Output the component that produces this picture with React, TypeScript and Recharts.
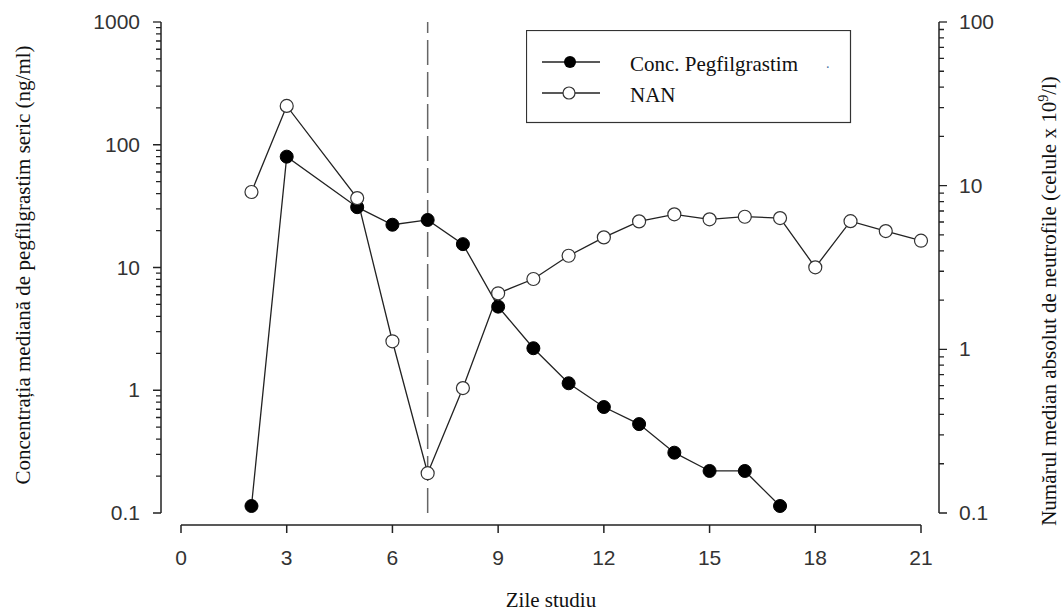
import { LineChart, Line, XAxis, YAxis, ReferenceLine, Legend, Label } from "recharts";

// days of study (no sample on day 4)
const days = [2, 3, 5, 6, 7, 8, 9, 10, 11, 12, 13, 14, 15, 16, 17, 18, 19, 20, 21];
// median serum pegfilgrastim, ng/ml (left axis)
const pegfilgrastim = [0.114, 80, 31, 22.3, 24.4, 15.5, 4.8, 2.2, 1.14, 0.73, 0.53, 0.31, 0.22, 0.22, 0.114, null, null, null, null];
// median absolute neutrophil count, 10^9/l (right axis)
const nan = [9.15, 30.7, 8.4, 1.12, 0.175, 0.58, 2.2, 2.69, 3.73, 4.83, 6.05, 6.68, 6.23, 6.46, 6.34, 3.17, 6.07, 5.28, 4.61];

const xTicks = [0, 3, 6, 9, 12, 15, 18, 21];
const leftTicks = [0.1, 1, 10, 100, 1000];
const leftLabels = ["0.1", "1", "10", "100", "1000"];
const rightTicks = [0.1, 1, 10, 100];
const rightLabels = ["0.1", "1", "10", "100"];
const minorSteps = [2, 3, 4, 5, 6, 7, 8, 9];

const data = days.map((d, i) => ({ day: d, conc: pegfilgrastim[i], nan: nan[i] }));

// layout
const W = 1063;
const H = 612;
const PLOT_L = 181;
const PLOT_R = 921;
const PLOT_T = 22;
const PLOT_B = 513;
const LEFT_AXIS_X = 161;
const RIGHT_AXIS_X = 939;
const X_AXIS_Y = 525;
const INK = "#222";
const NUM_FONT = "'Liberation Sans', Arial, sans-serif";
const SERIF = "'Liberation Serif', 'Times New Roman', serif";

function XTick(props: any) {
  const { x, payload } = props;
  return (
    <g>
      {payload.value === 0 && (
        <line x1={x} x2={x + (PLOT_R - PLOT_L)} y1={X_AXIS_Y} y2={X_AXIS_Y} stroke={INK} strokeWidth={1.5} />
      )}
      <line x1={x} x2={x} y1={X_AXIS_Y} y2={X_AXIS_Y + 8} stroke={INK} strokeWidth={1.5} />
      <text x={x} y={X_AXIS_Y + 40} textAnchor="middle" fontFamily={NUM_FONT} fontSize={21} fill="#333">
        {payload.value}
      </text>
    </g>
  );
}

// log axis tick: major mark + label, and the minor marks of the decade above it
function makeLogTick(majors: number[], labels: string[], axisX: number, dir: number, anchor: "start" | "end", labelX: number) {
  const decade = (PLOT_B - PLOT_T) / (majors.length - 1);
  return function LogTick(props: any) {
    const { y, payload } = props;
    const idx = majors.indexOf(payload.value);
    const isTop = idx === majors.length - 1;
    const marks = [{ yy: y, len: 8 }];
    if (!isTop) minorSteps.forEach((s) => marks.push({ yy: y - decade * Math.log10(s), len: 5 }));
    const d = marks.map((m) => `M${axisX},${m.yy}H${axisX + dir * m.len}`).join("");
    return (
      <g>
        {idx === 0 && (
          <path d={`M${axisX},${y}V${y - decade * (majors.length - 1)}`} stroke={INK} strokeWidth={1.5} fill="none" />
        )}
        <path d={d} stroke={INK} strokeWidth={1.3} fill="none" />
        <text x={labelX} y={y + 7} textAnchor={anchor} fontFamily={NUM_FONT} fontSize={21} fill="#333">
          {labels[idx]}
        </text>
      </g>
    );
  };
}

const LeftTick = makeLogTick(leftTicks, leftLabels, LEFT_AXIS_X, -1, "end", 140);
const RightTick = makeLogTick(rightTicks, rightLabels, RIGHT_AXIS_X, 1, "start", 959);

function LegendBox() {
  return (
    <svg width={326} height={94}>
      <rect x={0.5} y={0.5} width={324} height={92} fill="#fff" stroke="#333" strokeWidth={1.2} />
      <line x1={16} x2={74} y1={32} y2={32} stroke={INK} strokeWidth={1.3} />
      <circle cx={44} cy={32} r={6} fill="#000" />
      <line x1={16} x2={74} y1={63} y2={63} stroke={INK} strokeWidth={1.3} />
      <circle cx={43} cy={63} r={6} fill="#fff" stroke="#333" strokeWidth={1.2} />
      <text x={104} y={41} fontFamily={SERIF} fontSize={21} fill="#111">
        Conc. Pegfilgrastim
      </text>
      <text x={300} y={38} fontFamily={SERIF} fontSize={14} fill="#4a6fa5">
        .
      </text>
      <text x={104} y={72} fontFamily={SERIF} fontSize={21} fill="#111">
        NAN
      </text>
    </svg>
  );
}

export default function App() {
  return (
    <div style={{ position: "absolute", left: 0, top: 0, width: W, height: H, background: "#fff" }}>
      <LineChart width={W} height={H} data={data} margin={{ top: PLOT_T, right: 0, bottom: 0, left: 0 }}>
        <XAxis
          dataKey="day"
          type="number"
          domain={[0, 21]}
          ticks={xTicks}
          interval={0}
          height={H - PLOT_B}
          axisLine={false}
          tickLine={false}
          tick={<XTick />}
        >
          <Label
            content={() => (
              <text x={(PLOT_L + PLOT_R) / 2} y={607} textAnchor="middle" fontFamily={SERIF} fontSize={21} fill="#111">
                Zile studiu
              </text>
            )}
          />
        </XAxis>
        <YAxis
          yAxisId="left"
          scale="log"
          type="number"
          domain={[0.1, 1000]}
          allowDataOverflow
          ticks={leftTicks}
          interval={0}
          width={PLOT_L}
          axisLine={false}
          tickLine={false}
          tick={<LeftTick />}
        >
          <Label
            content={() => (
              <text
                x={30}
                y={265}
                transform="rotate(-90, 30, 265)"
                textAnchor="middle"
                fontFamily={SERIF}
                fontSize={21}
                fill="#111"
              >
                Concentrația mediană de pegfilgrastim seric (ng/ml)
              </text>
            )}
          />
        </YAxis>
        <YAxis
          yAxisId="right"
          orientation="right"
          scale="log"
          type="number"
          domain={[0.1, 100]}
          allowDataOverflow
          ticks={rightTicks}
          interval={0}
          width={W - PLOT_R}
          axisLine={false}
          tickLine={false}
          tick={<RightTick />}
        >
          <Label
            content={() => (
              <text
                x={1056}
                y={301}
                transform="rotate(-90, 1056, 301)"
                textAnchor="middle"
                fontFamily={SERIF}
                fontSize={21}
                fill="#111"
              >
                Numărul median absolut de neutrofile (celule x 10
                <tspan dy={-8} fontSize={14}>9</tspan>
                <tspan dy={8}>/l)</tspan>
              </text>
            )}
          />
        </YAxis>
        <ReferenceLine x={7} yAxisId="left" stroke="#666" strokeWidth={1.5} strokeDasharray="25 7" />
        <Legend
          layout="horizontal"
          align="center"
          verticalAlign="middle"
          content={() => <LegendBox />}
          wrapperStyle={{ position: "absolute", left: 526, top: 30, width: 326, height: 94 }}
        />
        <Line
          yAxisId="left"
          dataKey="conc"
          name="Conc. Pegfilgrastim"
          stroke={INK}
          strokeWidth={1.3}
          dot={{ r: 6.5, fill: "#000", stroke: "#000", strokeWidth: 1 }}
          isAnimationActive={false}
        />
        <Line
          yAxisId="right"
          dataKey="nan"
          name="NAN"
          stroke={INK}
          strokeWidth={1.3}
          dot={{ r: 6.5, fill: "#fff", stroke: "#333", strokeWidth: 1.2 }}
          isAnimationActive={false}
        />
      </LineChart>
    </div>
  );
}
